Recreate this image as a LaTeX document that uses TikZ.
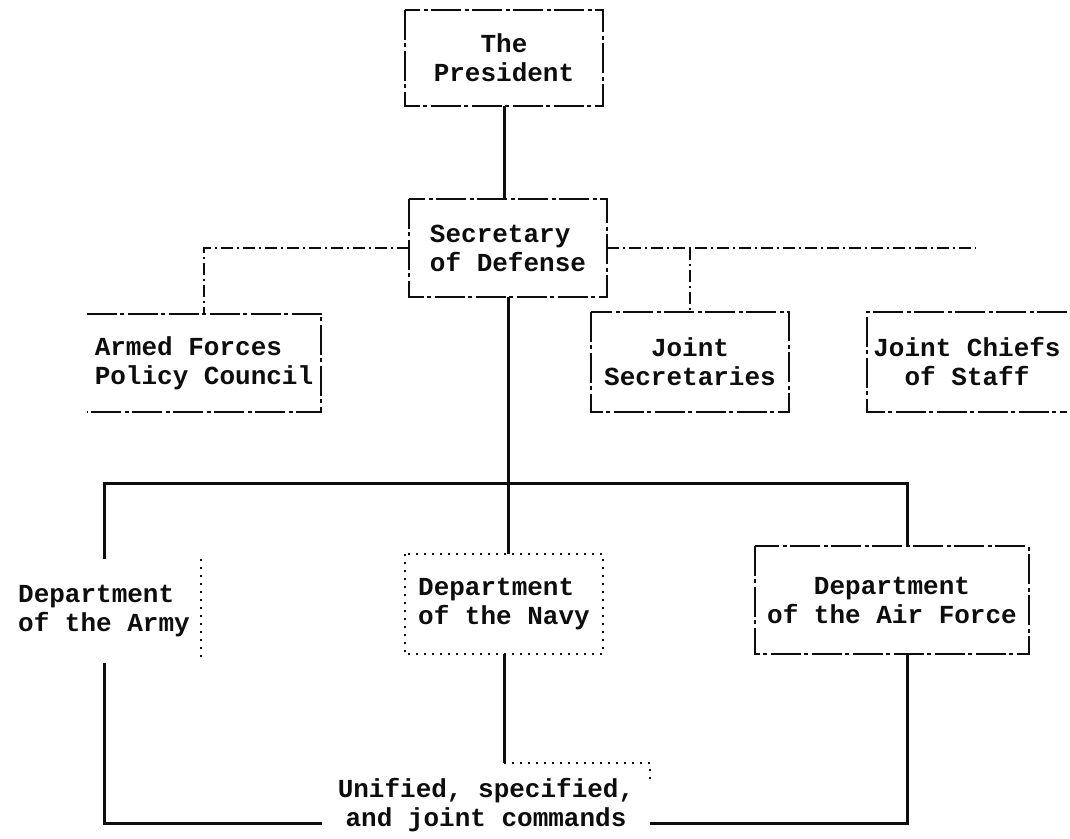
\documentclass[tikz,border=0pt]{standalone}
\usepackage{fontspec}
\setmonofont{Liberation Mono}
\usepackage{tikz}
\definecolor{ink}{gray}{0.05}
\tikzset{
  unit/.style={font=\ttfamily\bfseries\fontsize{26}{29}\selectfont,text=ink,inner sep=0pt},
  edge/.style={draw=ink,line width=2pt,dash pattern=on 30pt off 3pt on 4pt off 4pt},
  faint/.style={draw=ink,line width=1.5pt,dash pattern=on 2pt off 6pt},
  main/.style={draw=ink,line width=3pt},
  link/.style={draw=ink,line width=2pt,dash pattern=on 12pt off 4pt on 2pt off 4pt},
}

\begin{document}
\begin{tikzpicture}[x=1pt,y=-1pt]
  \useasboundingbox (0,0) rectangle (1070,838);
  \node[unit,minimum width=198pt,minimum height=96pt,align=center] (pres) at (504,58) {The\\President};
  \node[unit,minimum width=197pt,minimum height=97pt,align=left] (sec) at (508,248) {Secretary\\of Defense};
  \node[unit,minimum width=234pt,minimum height=98pt,align=left] (afpc) at (204,363) {Armed Forces\\Policy Council};
  \node[unit,minimum width=198pt,minimum height=99pt,align=center] (jsec) at (690,362) {Joint\\Secretaries};
  \node[unit,minimum width=199pt,minimum height=100pt,align=center] (jcs) at (967,362) {Joint Chiefs\\of Staff};
  \node[unit,minimum width=194pt,minimum height=103pt,align=left] (army) at (104,611) {Department\\of the Army};
  \node[unit,minimum width=198pt,minimum height=100pt,align=left] (navy) at (504,604) {Department\\of the Navy};
  \node[unit,minimum width=273pt,minimum height=107pt,align=center] (af) at (892,600) {Department\\of the Air Force};
  \node[unit,minimum width=328pt,minimum height=84pt,align=center] (cmd) at (486,805) {Unified, specified,\\and joint commands};
  \draw[edge] (pres.north west) rectangle (pres.south east);
  \draw[edge] (sec.north west) rectangle (sec.south east);
  \draw[edge] (afpc.north west) -- (afpc.north east) -- (afpc.south east) -- (afpc.south west);
  \draw[edge] (jsec.north west) rectangle (jsec.south east);
  \draw[edge] (jcs.north east) -- (jcs.north west) -- (jcs.south west) -- (jcs.south east);
  \draw[faint] (army.north east) -- (army.south east);
  \draw[faint] (navy.north west) rectangle (navy.south east);
  \draw[edge] (af.north west) rectangle (af.south east);
  \coordinate (stub) at (975,248);
  \coordinate (fork) at (506,483);
  \draw[main] (pres.south) -- (pres.south |- sec.north);
  \draw[link] (sec.west) -| (afpc.north);
  \draw[link] (sec.east) -- (stub);
  \draw[link] (sec.east -| jsec.north) -- (jsec.north);
  \draw[main] (sec.south) -- (sec.south |- navy.north);
  \draw[main] (army.north) |- (fork) -| ([xshift=15pt]af.north);
  \draw[main] (army.south) |- ([yshift=-18pt]cmd.west);
  \draw[main] ([xshift=15pt]af.south) |- ([yshift=-18pt]cmd.east);
  \draw[main] (navy.south) -- (navy.south |- cmd.north);
  \draw[faint] (navy.south |- cmd.north) -- (cmd.north east) -- ++(0,16);
\end{tikzpicture}
\end{document}
